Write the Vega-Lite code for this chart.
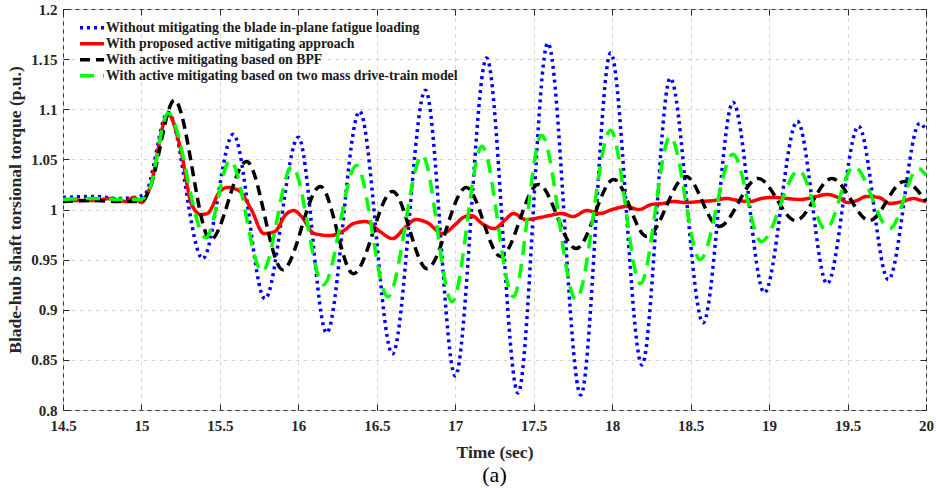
{
  "$schema": "https://vega.github.io/schema/vega-lite/v6.json",
  "autosize": {"type": "none"},
  "padding": {"left": 63, "top": 9, "right": 10, "bottom": 78},
  "width": 863,
  "height": 401,
  "background": "white",
  "title": {"text": "(a)", "orient": "bottom", "anchor": "middle", "font": "Liberation Serif", "fontSize": 22, "fontWeight": "normal", "color": "black", "offset": 4},
  "config": {
    "view": {"stroke": "#333333", "strokeWidth": 1},
    "axis": {"labelFont": "Liberation Serif", "labelFontSize": 15, "labelFontWeight": "bold", "labelColor": "#262626", "labelFlush": false, "titleFont": "Liberation Serif", "titleFontSize": 17.5, "titleFontWeight": "bold", "titleColor": "#262626", "domain": false, "tickColor": "#262626", "gridColor": "#d4d4d4", "gridDash": [4, 4], "gridWidth": 1}
  },
  "datasets": {
    "torque": [
      {"s": "B", "t": 14.5, "v": 1.012}, {"s": "B", "t": 14.7, "v": 1.013}, {"s": "B", "t": 14.85, "v": 1.011}, {"s": "B", "t": 14.95, "v": 1.012}, {"s": "B", "t": 15.02, "v": 1.015},
      {"s": "B", "t": 15.17, "v": 1.097}, {"s": "B", "t": 15.39, "v": 0.951}, {"s": "B", "t": 15.585, "v": 1.075}, {"s": "B", "t": 15.787, "v": 0.911}, {"s": "B", "t": 16.0, "v": 1.072},
      {"s": "B", "t": 16.18, "v": 0.877}, {"s": "B", "t": 16.39, "v": 1.098}, {"s": "B", "t": 16.6, "v": 0.856}, {"s": "B", "t": 16.81, "v": 1.119}, {"s": "B", "t": 17.0, "v": 0.834},
      {"s": "B", "t": 17.2, "v": 1.151}, {"s": "B", "t": 17.4, "v": 0.817}, {"s": "B", "t": 17.59, "v": 1.166}, {"s": "B", "t": 17.8, "v": 0.815}, {"s": "B", "t": 17.99, "v": 1.156},
      {"s": "B", "t": 18.19, "v": 0.845}, {"s": "B", "t": 18.37, "v": 1.131}, {"s": "B", "t": 18.58, "v": 0.887}, {"s": "B", "t": 18.77, "v": 1.107}, {"s": "B", "t": 18.97, "v": 0.917},
      {"s": "B", "t": 19.18, "v": 1.088}, {"s": "B", "t": 19.37, "v": 0.926}, {"s": "B", "t": 19.57, "v": 1.083}, {"s": "B", "t": 19.76, "v": 0.93}, {"s": "B", "t": 19.96, "v": 1.086}, {"s": "B", "t": 20.0, "v": 1.079},

      {"s": "R", "t": 14.5, "v": 1.009}, {"s": "R", "t": 14.7, "v": 1.009}, {"s": "R", "t": 14.8, "v": 1.011}, {"s": "R", "t": 14.9, "v": 1.008}, {"s": "R", "t": 14.95, "v": 1.012}, {"s": "R", "t": 15.0, "v": 1.007},
      {"s": "R", "t": 15.05, "v": 1.02}, {"s": "R", "t": 15.17, "v": 1.095}, {"s": "R", "t": 15.25, "v": 1.06}, {"s": "R", "t": 15.32, "v": 1.005}, {"s": "R", "t": 15.38, "v": 0.995}, {"s": "R", "t": 15.42, "v": 0.996},
      {"s": "R", "t": 15.5, "v": 1.018}, {"s": "R", "t": 15.55, "v": 1.022}, {"s": "R", "t": 15.62, "v": 1.019}, {"s": "R", "t": 15.7, "v": 1.0}, {"s": "R", "t": 15.78, "v": 0.976}, {"s": "R", "t": 15.85, "v": 0.978},
      {"s": "R", "t": 15.92, "v": 0.995}, {"s": "R", "t": 15.97, "v": 0.999}, {"s": "R", "t": 16.02, "v": 0.993}, {"s": "R", "t": 16.1, "v": 0.976}, {"s": "R", "t": 16.2, "v": 0.974}, {"s": "R", "t": 16.3, "v": 0.98},
      {"s": "R", "t": 16.35, "v": 0.986}, {"s": "R", "t": 16.43, "v": 0.988}, {"s": "R", "t": 16.52, "v": 0.978}, {"s": "R", "t": 16.6, "v": 0.971}, {"s": "R", "t": 16.68, "v": 0.982}, {"s": "R", "t": 16.75, "v": 0.99},
      {"s": "R", "t": 16.82, "v": 0.987}, {"s": "R", "t": 16.92, "v": 0.976}, {"s": "R", "t": 17.0, "v": 0.985}, {"s": "R", "t": 17.05, "v": 0.992}, {"s": "R", "t": 17.1, "v": 0.994}, {"s": "R", "t": 17.18, "v": 0.985},
      {"s": "R", "t": 17.25, "v": 0.981}, {"s": "R", "t": 17.32, "v": 0.99}, {"s": "R", "t": 17.37, "v": 0.996}, {"s": "R", "t": 17.45, "v": 0.99}, {"s": "R", "t": 17.54, "v": 0.992}, {"s": "R", "t": 17.6, "v": 0.994},
      {"s": "R", "t": 17.68, "v": 0.996}, {"s": "R", "t": 17.75, "v": 0.993}, {"s": "R", "t": 17.84, "v": 0.999}, {"s": "R", "t": 17.92, "v": 0.996}, {"s": "R", "t": 18.0, "v": 1.0}, {"s": "R", "t": 18.09, "v": 1.003},
      {"s": "R", "t": 18.17, "v": 1.0}, {"s": "R", "t": 18.25, "v": 1.005}, {"s": "R", "t": 18.32, "v": 1.006}, {"s": "R", "t": 18.39, "v": 1.008}, {"s": "R", "t": 18.47, "v": 1.007}, {"s": "R", "t": 18.56, "v": 1.008},
      {"s": "R", "t": 18.65, "v": 1.009}, {"s": "R", "t": 18.73, "v": 1.011}, {"s": "R", "t": 18.8, "v": 1.009}, {"s": "R", "t": 18.88, "v": 1.008}, {"s": "R", "t": 18.95, "v": 1.011}, {"s": "R", "t": 19.03, "v": 1.012},
      {"s": "R", "t": 19.11, "v": 1.011}, {"s": "R", "t": 19.2, "v": 1.01}, {"s": "R", "t": 19.3, "v": 1.013}, {"s": "R", "t": 19.37, "v": 1.015}, {"s": "R", "t": 19.44, "v": 1.012}, {"s": "R", "t": 19.5, "v": 1.007},
      {"s": "R", "t": 19.56, "v": 1.009}, {"s": "R", "t": 19.62, "v": 1.013}, {"s": "R", "t": 19.7, "v": 1.012}, {"s": "R", "t": 19.77, "v": 1.006}, {"s": "R", "t": 19.85, "v": 1.008}, {"s": "R", "t": 19.92, "v": 1.011},
      {"s": "R", "t": 19.97, "v": 1.009}, {"s": "R", "t": 20.0, "v": 1.008},

      {"s": "K", "t": 14.5, "v": 1.008}, {"s": "K", "t": 14.7, "v": 1.009}, {"s": "K", "t": 14.85, "v": 1.008}, {"s": "K", "t": 15.0, "v": 1.008}, {"s": "K", "t": 15.05, "v": 1.02},
      {"s": "K", "t": 15.21, "v": 1.109}, {"s": "K", "t": 15.44, "v": 0.97}, {"s": "K", "t": 15.67, "v": 1.048}, {"s": "K", "t": 15.9, "v": 0.94}, {"s": "K", "t": 16.14, "v": 1.023},
      {"s": "K", "t": 16.35, "v": 0.936}, {"s": "K", "t": 16.6, "v": 1.018}, {"s": "K", "t": 16.82, "v": 0.941}, {"s": "K", "t": 17.07, "v": 1.022}, {"s": "K", "t": 17.29, "v": 0.953},
      {"s": "K", "t": 17.53, "v": 1.025}, {"s": "K", "t": 17.77, "v": 0.961}, {"s": "K", "t": 18.01, "v": 1.03}, {"s": "K", "t": 18.22, "v": 0.973}, {"s": "K", "t": 18.47, "v": 1.033},
      {"s": "K", "t": 18.68, "v": 0.983}, {"s": "K", "t": 18.93, "v": 1.031}, {"s": "K", "t": 19.17, "v": 0.989}, {"s": "K", "t": 19.4, "v": 1.031}, {"s": "K", "t": 19.64, "v": 0.989},
      {"s": "K", "t": 19.86, "v": 1.028}, {"s": "K", "t": 20.0, "v": 1.008},

      {"s": "G", "t": 14.5, "v": 1.01}, {"s": "G", "t": 14.7, "v": 1.011}, {"s": "G", "t": 14.85, "v": 1.01}, {"s": "G", "t": 15.0, "v": 1.01}, {"s": "G", "t": 15.05, "v": 1.02},
      {"s": "G", "t": 15.17, "v": 1.096}, {"s": "G", "t": 15.41, "v": 0.972}, {"s": "G", "t": 15.565, "v": 1.049}, {"s": "G", "t": 15.77, "v": 0.938}, {"s": "G", "t": 15.96, "v": 1.043},
      {"s": "G", "t": 16.16, "v": 0.925}, {"s": "G", "t": 16.37, "v": 1.044}, {"s": "G", "t": 16.57, "v": 0.913}, {"s": "G", "t": 16.79, "v": 1.054}, {"s": "G", "t": 16.98, "v": 0.908},
      {"s": "G", "t": 17.17, "v": 1.063}, {"s": "G", "t": 17.37, "v": 0.913}, {"s": "G", "t": 17.55, "v": 1.074}, {"s": "G", "t": 17.77, "v": 0.91}, {"s": "G", "t": 17.99, "v": 1.079},
      {"s": "G", "t": 18.18, "v": 0.926}, {"s": "G", "t": 18.37, "v": 1.073}, {"s": "G", "t": 18.56, "v": 0.95}, {"s": "G", "t": 18.77, "v": 1.055}, {"s": "G", "t": 18.95, "v": 0.968},
      {"s": "G", "t": 19.19, "v": 1.039}, {"s": "G", "t": 19.36, "v": 0.98}, {"s": "G", "t": 19.54, "v": 1.043}, {"s": "G", "t": 19.77, "v": 0.981}, {"s": "G", "t": 19.95, "v": 1.041},
      {"s": "G", "t": 20.0, "v": 1.034}
    ]
  },
  "data": {"name": "torque"},
  "encoding": {
    "color": {
      "field": "s", "type": "nominal",
      "scale": {"domain": ["B", "R", "K", "G"], "range": ["#0000ff", "#ff0000", "#000000", "#00ff00"]},
      "legend": {
        "orient": "none", "legendX": 15, "legendY": 11, "title": null, "padding": 0,
        "symbolType": "stroke", "symbolSize": 576, "symbolStrokeWidth": 3.5, "clipHeight": 15.5,
        "labelFont": "Liberation Serif", "labelFontSize": 13.8, "labelFontWeight": "bold", "labelColor": "#1a1a1a",
        "labelOffset": 0, "rowPadding": 0, "labelLimit": 600,
        "labelExpr": "datum.value == 'B' ? 'Without mitigating the blade in-plane fatigue loading' : datum.value == 'R' ? 'With proposed active mitigating approach' : datum.value == 'K' ? 'With active mitigating based on BPF' : 'With active mitigating based on two mass drive-train model'"
      }
    },
    "strokeDash": {
      "field": "s", "type": "nominal",
      "scale": {"domain": ["B", "R", "K", "G"], "range": [[3, 4], [1, 0], [10, 6], [14, 9]]},
      "legend": null
    }
  },
  "layer": [
    {
      "transform": [{"filter": "datum.s == 'B' || datum.s == 'R'"}],
      "mark": {"type": "line", "interpolate": "monotone", "strokeWidth": 3.5, "strokeCap": "butt"},
      "encoding": {
        "x": {"field": "t", "type": "quantitative", "scale": {"domain": [14.5, 20], "nice": false, "zero": false},
          "axis": {"title": "Time (sec)", "values": [14.5, 15, 15.5, 16, 16.5, 17, 17.5, 18, 18.5, 19, 19.5, 20], "labelExpr": "'' + datum.value", "tickSize": -6, "labelPadding": 14, "titlePadding": 10, "grid": true}},
        "y": {"field": "v", "type": "quantitative", "scale": {"domain": [0.8, 1.2], "nice": false, "zero": false},
          "axis": {"title": "Blade-hub shaft torsional torque (p.u.)", "values": [0.8, 0.85, 0.9, 0.95, 1, 1.05, 1.1, 1.15, 1.2], "labelExpr": "'' + datum.value", "tickSize": -6, "labelPadding": 12, "titlePadding": 6, "grid": true}}
      }
    },
    {
      "transform": [{"filter": "datum.s == 'K' || datum.s == 'G'"}],
      "mark": {"type": "line", "interpolate": "monotone", "strokeWidth": 3.5, "strokeCap": "butt"},
      "encoding": {
        "x": {"field": "t", "type": "quantitative",
          "axis": {"orient": "top", "title": null, "labels": false, "grid": false, "tickSize": -6, "values": [14.5, 15, 15.5, 16, 16.5, 17, 17.5, 18, 18.5, 19, 19.5, 20]}},
        "y": {"field": "v", "type": "quantitative",
          "axis": {"orient": "right", "title": null, "labels": false, "grid": false, "tickSize": -6, "values": [0.8, 0.85, 0.9, 0.95, 1, 1.05, 1.1, 1.15, 1.2]}}
      }
    }
  ],
  "resolve": {"axis": {"x": "independent", "y": "independent"}}
}
